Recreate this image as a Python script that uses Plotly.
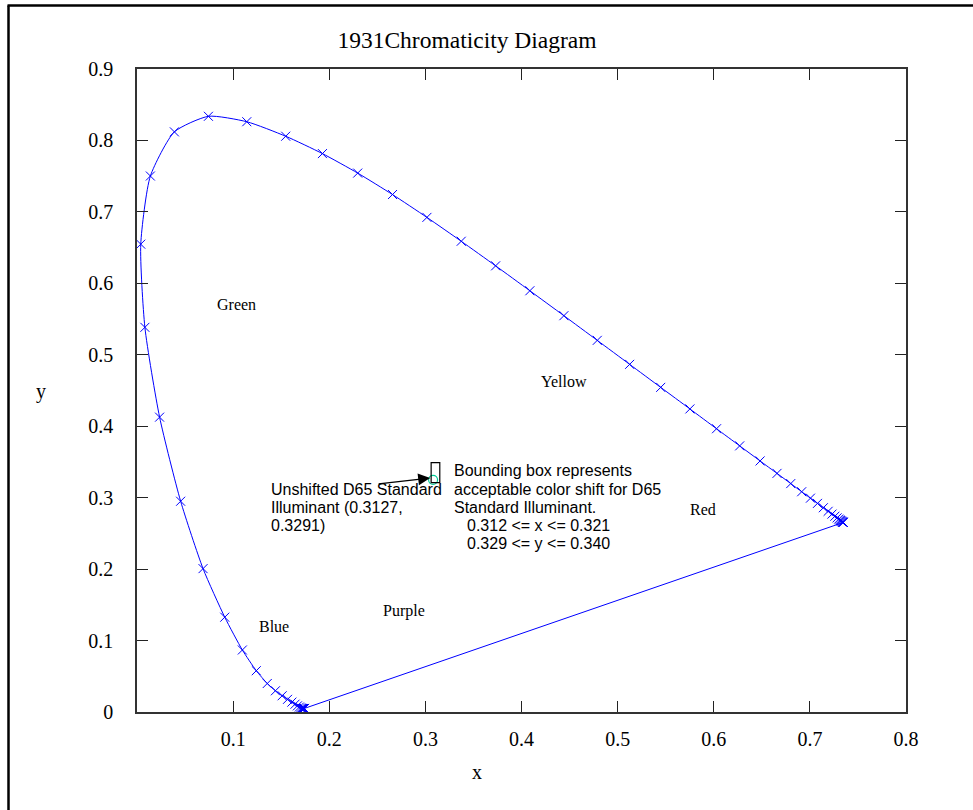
import plotly.graph_objects as go

# CIE 1931 spectral locus, 5 nm steps (380-700 nm)
wavelengths = list(range(380, 705, 5))
cie_x = [0.1741, 0.1740, 0.1738, 0.1736, 0.1733, 0.1730, 0.1726, 0.1721, 0.1714, 0.1703,
         0.1689, 0.1669, 0.1644, 0.1611, 0.1566, 0.1510, 0.1440, 0.1355, 0.1241, 0.1096,
         0.0913, 0.0687, 0.0454, 0.0235, 0.0082, 0.0039, 0.0139, 0.0389, 0.0743, 0.1142,
         0.1547, 0.1929, 0.2296, 0.2658, 0.3016, 0.3373, 0.3731, 0.4087, 0.4441, 0.4788,
         0.5125, 0.5448, 0.5752, 0.6029, 0.6270, 0.6482, 0.6658, 0.6801, 0.6915, 0.7006,
         0.7079, 0.7140, 0.7190, 0.7230, 0.7260, 0.7283, 0.7300, 0.7311, 0.7320, 0.7327,
         0.7334, 0.7340, 0.7344, 0.7346, 0.7347]
cie_y = [0.0050, 0.0050, 0.0049, 0.0049, 0.0048, 0.0048, 0.0048, 0.0048, 0.0051, 0.0058,
         0.0069, 0.0086, 0.0109, 0.0138, 0.0177, 0.0227, 0.0297, 0.0399, 0.0578, 0.0868,
         0.1327, 0.2007, 0.2950, 0.4127, 0.5384, 0.6548, 0.7502, 0.8120, 0.8338, 0.8262,
         0.8059, 0.7816, 0.7543, 0.7243, 0.6923, 0.6589, 0.6245, 0.5896, 0.5547, 0.5202,
         0.4866, 0.4544, 0.4242, 0.3965, 0.3725, 0.3514, 0.3340, 0.3197, 0.3083, 0.2993,
         0.2920, 0.2859, 0.2809, 0.2770, 0.2740, 0.2717, 0.2700, 0.2689, 0.2680, 0.2673,
         0.2666, 0.2660, 0.2656, 0.2654, 0.2653]

# D65 point and bounding box as drawn
d65_x = [0.308]
d65_y = [0.325]
box_x = [0.306, 0.315]
box_y = [0.321, 0.349]

# region labels
region_names = ["Green", "Yellow", "Red", "Blue", "Purple"]
region_x = [0.104, 0.444, 0.589, 0.1425, 0.278]
region_y = [0.570, 0.462, 0.284, 0.120, 0.141]

x_ticks = [0.1, 0.2, 0.3, 0.4, 0.5, 0.6, 0.7, 0.8]
x_tick_labels = ["0.1", "0.2", "0.3", "0.4", "0.5", "0.6", "0.7", "0.8"]
y_ticks = [0, 0.1, 0.2, 0.3, 0.4, 0.5, 0.6, 0.7, 0.8, 0.9]
y_tick_labels = ["0", "0.1", "0.2", "0.3", "0.4", "0.5", "0.6", "0.7", "0.8", "0.9"]

W, H = 973, 810
L, R, T, B = 137, 906, 69, 712


def px(xp):
    return (xp - L) / (R - L)


def py(yp):
    return (B - yp) / (B - T)


SERIF = "Liberation Serif, Times New Roman, serif"
SANS = "Liberation Sans, Arial, sans-serif"
BLUE = "#0000ff"

fig = go.Figure()
fig.add_trace(go.Scatter(
    x=cie_x, y=cie_y, mode="lines+markers",
    line=dict(color=BLUE, width=1, shape="spline", smoothing=0.6),
    marker=dict(symbol="x-thin", size=9, line=dict(color=BLUE, width=1), color=BLUE),
    hoverinfo="skip", showlegend=False))
fig.add_trace(go.Scatter(
    x=[cie_x[-1], cie_x[0]], y=[cie_y[-1], cie_y[0]], mode="lines",
    line=dict(color=BLUE, width=1), hoverinfo="skip", showlegend=False))
fig.add_trace(go.Scatter(
    x=d65_x, y=d65_y, mode="markers",
    marker=dict(symbol="circle-open", size=9, line=dict(color="#9f9fff", width=1.2)),
    hoverinfo="skip", showlegend=False))

fig.add_shape(type="rect", xref="x", yref="y", x0=box_x[0], x1=box_x[1],
              y0=box_y[0], y1=box_y[1], line=dict(color="black", width=1.2))

# outer frame (left and top)
fig.add_shape(type="line", xref="paper", yref="paper",
              x0=px(8.5), x1=px(8.5), y0=py(5.5), y1=py(820), line=dict(color="black", width=2.5))
fig.add_shape(type="line", xref="paper", yref="paper",
              x0=px(7.5), x1=px(980), y0=py(5.5), y1=py(5.5), line=dict(color="black", width=2.5))

ann = []
for n, xv, yv in zip(region_names, region_x, region_y):
    ann.append(dict(x=xv, y=yv, xref="x", yref="y", text=n, showarrow=False,
                    xanchor="center", yanchor="middle",
                    font=dict(family=SERIF, size=16, color="black")))

left_lines = ["Unshifted D65 Standard", "Illuminant (0.3127,", "0.3291)"]
left_mid = [489.5, 507.5, 525.5]
for t, m in zip(left_lines, left_mid):
    ann.append(dict(x=px(269), y=py(m), xref="paper", yref="paper", text=t,
                    showarrow=False, xanchor="left", yanchor="middle",
                    font=dict(family=SANS, size=16, color="black")))
right_lines = ["Bounding box represents", "acceptable color shift for D65",
               "Standard Illuminant.", "0.312 &lt;= x &lt;= 0.321", "0.329 &lt;= y &lt;= 0.340"]
right_mid = [470.5, 489.5, 507.5, 525.5, 543.5]
right_x = [452, 452, 452, 465, 465]
for t, m, xx in zip(right_lines, right_mid, right_x):
    ann.append(dict(x=px(xx), y=py(m), xref="paper", yref="paper", text=t,
                    showarrow=False, xanchor="left", yanchor="middle",
                    font=dict(family=SANS, size=16, color="black")))

# arrow pointing to D65
ann.append(dict(x=0.305, y=0.3275, xref="x", yref="y", text="", showarrow=True,
                ax=-53, ay=6, arrowhead=2, arrowsize=2, arrowwidth=1.2, arrowcolor="black"))

# axis titles
ann.append(dict(x=px(477), y=py(772), xref="paper", yref="paper", text="x", showarrow=False,
                xanchor="center", yanchor="middle",
                font=dict(family=SERIF, size=20, color="black")))
ann.append(dict(x=px(41), y=py(391), xref="paper", yref="paper", text="y", showarrow=False,
                xanchor="center", yanchor="middle",
                font=dict(family=SERIF, size=20, color="black")))

axis_common = dict(showgrid=False, zeroline=False, showline=True, linecolor="#333333",
                   linewidth=1.5, mirror="ticks", ticks="inside", ticklen=11,
                   tickcolor="#222222", tickwidth=1,
                   tickfont=dict(family=SERIF, size=20, color="black"))

fig.update_layout(
    width=W, height=H,
    margin=dict(l=L, r=W - R, t=T, b=H - B, autoexpand=False),
    paper_bgcolor="white", plot_bgcolor="white",
    title=dict(text="1931Chromaticity Diagram", x=467 / W, xanchor="center",
               y=1 - 40 / H, yanchor="middle", xref="container", yref="container",
               font=dict(family=SERIF, size=23.5, color="black")),
    xaxis=dict(range=[0, 0.8], tickvals=x_ticks, ticktext=x_tick_labels,
               ticklabelstandoff=8, **axis_common),
    yaxis=dict(range=[0, 0.9], tickvals=y_ticks, ticktext=y_tick_labels,
               ticklabelstandoff=18, **axis_common),
    annotations=ann,
    showlegend=False,
)

fig.write_html("out.html", config={"displayModeBar": False},
               post_script="document.body.style.margin='0';document.body.style.overflow='hidden';")
